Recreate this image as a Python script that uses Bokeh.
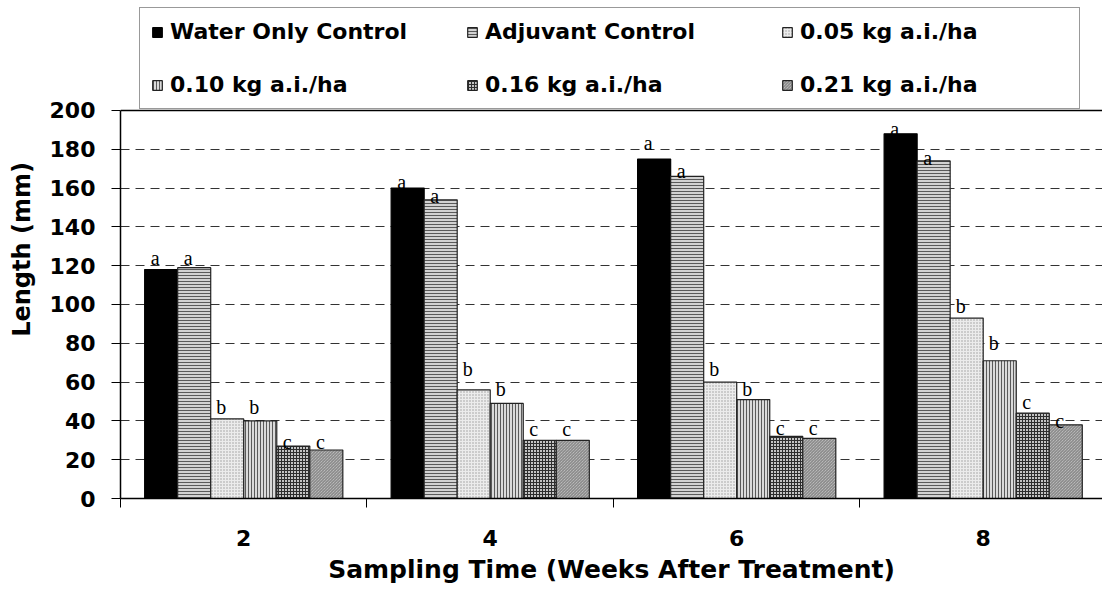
from bokeh.plotting import figure
from bokeh.models import Range1d, FixedTicker, Legend, LegendItem, Span, ColumnDataSource
from bokeh.core.properties import value
from bokeh.embed import file_html
from bokeh.resources import INLINE

# ---- data ----
weeks = ["2", "4", "6", "8"]
treatments = ["Water Only Control", "Adjuvant Control", "0.05 kg a.i./ha",
              "0.10 kg a.i./ha", "0.16 kg a.i./ha", "0.21 kg a.i./ha"]
water = [118, 160, 175, 188]
adjuvant = [119, 154, 166, 174]
rate_005 = [41, 56, 60, 93]
rate_010 = [40, 49, 51, 71]
rate_016 = [27, 30, 32, 44]
rate_021 = [25, 30, 31, 38]

letters_water = ["a", "a", "a", "a"]
letters_adjuvant = ["a", "a", "a", "a"]
letters_005 = ["b", "b", "b", "b"]
letters_010 = ["b", "b", "b", "b"]
letters_016 = ["c", "c", "c", "c"]
letters_021 = ["c", "c", "c", "c"]

label_y_water = [124, 163, 183, 190.5]
label_y_adjuvant = [124, 156, 169, 175.5]
label_y_005 = [47, 67, 67, 99]
label_y_010 = [47, 56.5, 56.5, 80]
label_y_016 = [29, 36, 36.5, 49.5]
label_y_021 = [29, 36, 36.5, 40]

y_ticks = [0, 20, 40, 60, 80, 100, 120, 140, 160, 180, 200]

series = [water, adjuvant, rate_005, rate_010, rate_016, rate_021]
letters = [letters_water, letters_adjuvant, letters_005, letters_010, letters_016, letters_021]
label_ys = [label_y_water, label_y_adjuvant, label_y_005, label_y_010, label_y_016, label_y_021]

styles = [
    dict(fill_color="black", line_color="black"),
    dict(fill_color="#d2d2d2", hatch_pattern="horizontal_line", hatch_scale=3,
         hatch_color="#5a5a5a", hatch_weight=1, line_color="#222222"),
    dict(fill_color="#ececec", hatch_pattern="dot", hatch_scale=3,
         hatch_color="#9a9a9a", hatch_weight=1, line_color="#222222"),
    dict(fill_color="#dadada", hatch_pattern="vertical_line", hatch_scale=3,
         hatch_color="#5a5a5a", hatch_weight=1, line_color="#222222"),
    dict(fill_color="#c4c4c4", hatch_pattern="cross", hatch_scale=3,
         hatch_color="#2e2e2e", hatch_weight=1, line_color="#222222"),
    dict(fill_color="#cfcfcf", hatch_pattern="left_diagonal_line", hatch_scale=3,
         hatch_color="#7a7a7a", hatch_weight=1, line_color="#222222"),
]

n_groups = len(weeks)
centers = [i + 0.5 for i in range(n_groups)]
bar_w = 0.134

# frame spans the full height above the axis; the data area 0-200 is the lower part
p = figure(width=1102, height=589, output_backend="svg", toolbar_location=None,
           x_range=Range1d(0, 3.984), y_range=Range1d(0, 256.7),
           min_border_left=120, min_border_right=0, min_border_bottom=91,
           min_border_top=0)
p.outline_line_color = None
p.background_fill_color = "white"
p.border_fill_color = "white"

renderers = []
sources = []
for j, (vals, st) in enumerate(zip(series, styles)):
    off = (j - 2.5) * bar_w
    xs = [c + off for c in centers]
    src = ColumnDataSource(dict(x=xs, top=vals, ly=label_ys[j], txt=letters[j]))
    r = p.vbar(x="x", top="top", bottom=0, width=bar_w, source=src, line_width=1.2, **st)
    renderers.append(r)
    sources.append(src)

for src in sources:
    p.text(x="x", y="ly", text="txt", source=src, text_font=value("Liberation Serif"),
           text_font_size=value("20px"), text_align="center", text_baseline="alphabetic",
           x_offset=-6, text_color="black")

# top border of plot area (at the top of the value axis)
p.add_layout(Span(location=y_ticks[-1], dimension="width", line_color="black", line_width=1.5))

# axes
xa = p.xaxis[0]
xa.ticker = FixedTicker(ticks=centers, minor_ticks=[0, 1, 2, 3])
xa.major_label_overrides = {c: w for c, w in zip(centers, weeks)}
xa.major_tick_line_color = None
xa.major_tick_out = 9
xa.major_tick_in = 0
xa.minor_tick_out = 9
xa.minor_tick_in = 0
xa.minor_tick_line_color = "black"
xa.axis_line_color = "black"
xa.axis_line_width = 1.5
xa.major_label_standoff = 22
xa.major_label_text_font = "DejaVu Sans"
xa.major_label_text_font_style = "bold"
xa.major_label_text_font_size = "22px"
xa.major_label_text_color = "black"
xa.axis_label = "Sampling Time (Weeks After Treatment)"
xa.axis_label_text_font = "DejaVu Sans"
xa.axis_label_text_font_style = "bold"
xa.axis_label_text_font_size = "25px"
xa.axis_label_text_color = "black"
xa.axis_label_standoff = 6

ya = p.yaxis[0]
ya.ticker = FixedTicker(ticks=y_ticks)
ya.bounds = (y_ticks[0], y_ticks[-1])
ya.minor_tick_line_color = None
ya.major_tick_out = 9
ya.major_tick_in = 0
ya.major_tick_line_color = "black"
ya.axis_line_color = "black"
ya.axis_line_width = 1.5
ya.major_label_standoff = 16
ya.major_label_text_font = "DejaVu Sans"
ya.major_label_text_font_style = "bold"
ya.major_label_text_font_size = "22px"
ya.major_label_text_color = "black"
ya.axis_label = "Length (mm)"
ya.axis_label_text_font = "DejaVu Sans"
ya.axis_label_text_font_style = "bold"
ya.axis_label_text_font_size = "24px"
ya.axis_label_text_color = "black"
ya.axis_label_standoff = 11

p.xgrid.grid_line_color = None
p.ygrid.ticker = FixedTicker(ticks=y_ticks[1:-1])
p.ygrid.grid_line_color = "#333333"
p.ygrid.grid_line_dash = "9 6"
p.ygrid.grid_line_width = 1

legend = Legend(items=[LegendItem(label=t, renderers=[r]) for t, r in zip(treatments, renderers)],
                orientation="horizontal", ncols=3, location=(19, 389))
legend.label_text_font = "DejaVu Sans"
legend.label_text_font_style = "bold"
legend.label_text_font_size = "22px"
legend.label_text_color = "black"
legend.glyph_width = 12
legend.glyph_height = 12
legend.label_standoff = 7
legend.label_width = 268
legend.label_height = 25
legend.spacing = 28
legend.padding = 11
legend.margin = 0
legend.border_line_color = "#333333"
legend.border_line_width = 1.5
legend.background_fill_color = "white"
legend.background_fill_alpha = 1
p.add_layout(legend, "center")

open("out.html", "w").write(file_html(p, INLINE))
